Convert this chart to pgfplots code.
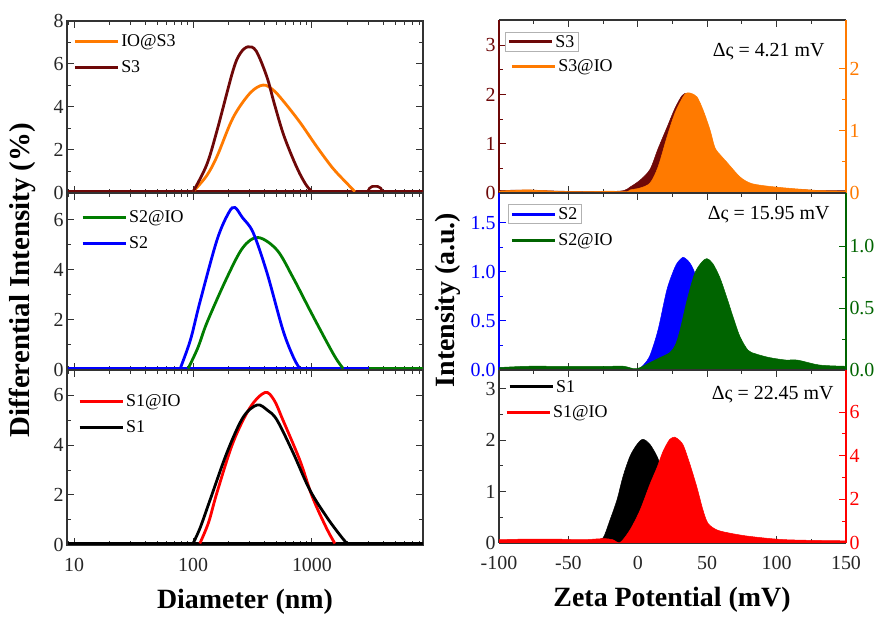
\documentclass[border=0pt]{standalone}
\usepackage{pgfplots}
\pgfplotsset{compat=1.18}
\usepackage{fontspec}
\setmainfont{Liberation Serif}

\definecolor{dred}{RGB}{110,8,8}
\definecolor{orng}{RGB}{255,122,0}
\definecolor{grnl}{RGB}{0,125,0}
\definecolor{grnf}{RGB}{0,100,0}
\definecolor{blu}{RGB}{0,0,255}
\definecolor{rd}{RGB}{255,0,0}

\pgfplotsset{
  mybase/.style={scale only axis, anchor=south west,
    axis line style={line width=1.3bp, black!80},
    every tick/.style={line width=1bp, black!80},
    major tick length=7bp, minor tick length=4bp,
    tick label style={font=\fontsize{20}{20}\selectfont, black!85},
    xticklabel style={yshift=-10bp},
    /pgf/number format/assume math mode=true,
    legend cell align=left,
    legend style={draw=none, fill=none, font=\fontsize{18}{18}\selectfont,
      inner sep=0bp, row sep=11bp, nodes={inner xsep=2bp, inner ysep=1bp}},
    legend image code/.code={\draw[##1, line width=3bp] (0bp,0bp) -- (43bp,0bp);},
  },
  mydls/.style={mybase, width=356bp, xmin=8.7, xmax=8600, clip=false,
    xtick={10,100,1000}, xticklabels={},
    minor xtick={9,20,30,40,50,60,70,80,90,200,300,400,500,600,700,800,900,2000,3000,4000,5000,6000,7000,8000},
    minor y tick num=1, ymin=0},
  dcurve/.style={smooth, tension=0.55, line width=2.8bp},
  myzl/.style={mybase, width=347bp, xmin=-100, xmax=150, xtick={-100,-50,...,150},
    minor x tick num=1, axis x line*=box, axis y line*=left, xticklabels={},
    minor y tick num=1, ymin=0},
  myzr/.style={mybase, width=347bp, xmin=-100, xmax=150, axis x line=none,
    axis y line*=right, minor y tick num=1, ymin=0},
  zfill/.style={smooth, tension=0.5, line width=0.5bp},
}

\begin{document}
\begin{tikzpicture}
\useasboundingbox (0bp,0bp) rectangle (881bp,617bp);

% ---------- left: size distributions ----------
\begin{axis}[xmode=log, mydls, at={(67bp,424bp)}, height=172bp, ymax=8, ytick={0,2,4,6,8},
  legend style={at={(0.017,0.928)}, anchor=north west}]
\addplot[orng, line width=2.6bp, forget plot] coordinates {(8.8,0.06)(8550,0.06)};
\addplot[dred, line width=2.6bp, forget plot] coordinates {(8.8,0.06)(8550,0.06)};
\addplot[orng, dcurve] coordinates {(100,0.06)(130,0.8)(159,1.7)(217,3.5)(302,4.65)(388,5.02)(470,4.8)(570,4.3)(790,3.3)(1100,2.15)(1500,1.15)(1970,0.45)(2300,0.06)};
\addplot[dred, dcurve] coordinates {(100,0.06)(130,1.3)(159,2.9)(217,5.7)(250,6.5)(290,6.8)(340,6.6)(418,5.4)(480,4.2)(570,2.8)(680,1.7)(790,0.9)(900,0.35)(1000,0.06)};
\addplot[dred, line width=2.6bp, smooth, tension=0.4, forget plot] coordinates {(2950,0.06)(3050,0.22)(3200,0.3)(3600,0.3)(3800,0.22)(3900,0.06)};
\addlegendentry{IO@S3}
\addlegendentry{S3}
\end{axis}

\begin{axis}[xmode=log, mydls, at={(67bp,247bp)}, height=177bp, ymax=7.08, ytick={0,2,4,6},
  legend style={at={(0.039,0.907)}, anchor=north west}]
\addplot[blu, line width=2.6bp, forget plot] coordinates {(8.8,0.06)(8550,0.06)};
\addplot[grnl, line width=2.6bp, forget plot] coordinates {(3000,0.06)(8550,0.06)};
\addplot[grnl, dcurve] coordinates {(91,0.06)(110,0.9)(131,1.9)(193,3.7)(263,4.9)(352,5.3)(508,4.8)(693,3.7)(960,2.4)(1340,1.1)(1600,0.45)(1830,0.06)};
\addplot[blu, dcurve] coordinates {(78,0.06)(95,1.2)(114,2.7)(159,5.2)(200,6.3)(225,6.5)(260,6.1)(320,5.5)(418,3.9)(570,1.6)(700,0.5)(790,0.06)};
\addlegendentry{S2@IO}
\addlegendentry{S2}
\end{axis}

\begin{axis}[xmode=log, mydls, at={(67bp,72bp)}, height=175bp, ymax=7, ytick={0,2,4,6},
  xticklabels={10,100,1000},
  legend style={at={(0.031,0.868)}, anchor=north west}]
\addplot[rd, line width=2.6bp, forget plot] coordinates {(8.8,0.06)(8550,0.06)};
\addplot[black, line width=2.6bp, forget plot] coordinates {(8.8,0.06)(8550,0.06)};
\addplot[rd, dcurve] coordinates {(114,0.06)(135,0.9)(159,2.1)(217,4.1)(302,5.5)(403,6.1)(480,5.8)(570,5.0)(790,3.4)(960,2.2)(1100,1.5)(1350,0.6)(1560,0.06)};
\addplot[black, dcurve] coordinates {(100,0.06)(115,0.7)(139,1.8)(193,3.7)(263,5.1)(345,5.6)(420,5.4)(508,5.0)(693,3.7)(960,2.2)(1340,1.1)(1720,0.4)(1970,0.06)};
\addlegendentry{S1@IO}
\addlegendentry{S1}
\end{axis}

% ---------- right: zeta potential ----------
% top
\begin{axis}[myzl, at={(499bp,424bp)}, height=173bp, ymax=3.51, ytick={0,1,2,3},
  y axis line style={dred}, ytick style={dred}, yticklabel style={text=dred},
  legend style={draw=gray!60, fill=white, line width=0.8bp, inner sep=2bp,
    at={(0.017,0.873)}, anchor=west}]
\addplot[fill=dred, draw=dred, zfill, forget plot] coordinates {(-100,0.05)(-80,0.06)(-60,0.04)(-40,0.03)(-20,0.03)(-10,0.05)(-5.6,0.12)(1.6,0.26)(8.8,0.48)(14.6,0.9)(21,1.33)(26.8,1.72)(32,1.98)(36,2.02)(42,1.9)(47,1.6)(52,1.2)(56,0.85)(64,0.55)(74,0.3)(81,0.18)(100,0.1)(130,0.05)(150,0.05)} \closedcycle;
\addlegendimage{dred}
\addlegendentry{S3}
\end{axis}
\begin{axis}[myzr, at={(499bp,424bp)}, height=173bp, ymax=2.79, ytick={0,1,2},
  y axis line style={orng}, ytick style={orng}, yticklabel style={text=orng},
  legend style={at={(0.032,0.734)}, anchor=west}]
\addplot[fill=orng, draw=orng, zfill, forget plot] coordinates {(-100,0.03)(-80,0.05)(-60,0.03)(-40,0.02)(-20,0.03)(-8,0.02)(-5.6,0.05)(1.6,0.08)(8.8,0.16)(14.6,0.42)(21,0.9)(26.8,1.29)(32.6,1.55)(35,1.61)(38,1.61)(42.6,1.55)(47,1.34)(52,1.02)(55.6,0.73)(60,0.6)(64,0.5)(73.6,0.26)(81,0.16)(90,0.12)(107,0.08)(131,0.04)(150,0.03)} \closedcycle;
\addlegendimage{orng}
\addlegendentry{S3@IO}
\end{axis}

% middle
\begin{axis}[myzl, at={(499bp,247bp)}, height=177bp, ymax=1.806, ytick={0,0.5,1,1.5},
  yticklabels={0.0,0.5,1.0,1.5},
  y axis line style={blu}, ytick style={blu}, yticklabel style={text=blu},
  legend style={draw=gray!60, fill=white, line width=0.8bp, inner sep=2bp,
    at={(0.026,0.881)}, anchor=west}]
\addplot[fill=blu, draw=blu, zfill, forget plot] coordinates {(-100,0.02)(-80,0.03)(-60,0.02)(-40,0.02)(-20,0.03)(-10,0.03)(-1,0)(4,0.05)(8.8,0.15)(14.6,0.41)(21,0.82)(26.8,1.05)(30,1.12)(32.6,1.15)(35,1.13)(37.6,1.09)(41,0.99)(45,0.75)(50,0.45)(55,0.25)(60,0.12)(70,0.05)(80,0.03)(150,0.02)} \closedcycle;
\addlegendimage{blu}
\addlegendentry{S2}
\end{axis}
\begin{axis}[myzr, at={(499bp,247bp)}, height=177bp, ymax=1.43, ytick={0,0.5,1},
  yticklabels={0.0,0.5,1.0},
  y axis line style={grnf}, ytick style={grnf}, yticklabel style={text=grnf},
  legend style={at={(0.032,0.731)}, anchor=west}]
\addplot[fill=grnf, draw=grnf, zfill, forget plot] coordinates {(-100,0.02)(-80,0.03)(-60,0.03)(-40,0.03)(-20,0.03)(-10,0.03)(-1,0.01)(8.8,0.06)(16,0.1)(23,0.14)(27,0.2)(30.4,0.32)(35.4,0.56)(41,0.78)(46,0.87)(49.8,0.9)(54,0.86)(59,0.75)(64,0.59)(68.6,0.43)(73.6,0.27)(79.4,0.16)(85,0.13)(95,0.1)(107,0.08)(115,0.08)(131,0.04)(150,0.03)} \closedcycle;
\addlegendimage{grnf}
\addlegendentry{S2@IO}
\end{axis}

% bottom
\begin{axis}[myzl, at={(499bp,74bp)}, height=173bp, ymax=3.37, ytick={0,1,2,3},
  xticklabels={-100,-50,0,50,100,150},
  legend style={at={(0.026,0.902)}, anchor=west}]
\addplot[fill=black, draw=black, zfill, forget plot] coordinates {(-100,0.05)(-80,0.06)(-60,0.06)(-40,0.05)(-30,0.06)(-25,0.1)(-20,0.45)(-15,0.84)(-10.6,1.3)(-5.6,1.69)(-0.6,1.92)(3.7,2.02)(8.8,1.92)(13.8,1.69)(16,1.53)(20,1.2)(25,0.8)(30,0.4)(35,0.2)(45,0.08)(60,0.05)(150,0.03)} \closedcycle;
\addlegendimage{black}
\addlegendentry{S1}
\end{axis}
\begin{axis}[myzr, at={(499bp,74bp)}, height=173bp, ymax=7.93, ytick={0,2,4,6},
  y axis line style={rd}, ytick style={rd}, yticklabel style={text=rd},
  legend style={at={(0.017,0.757)}, anchor=west}]
\addplot[fill=rd, draw=rd, zfill, forget plot] coordinates {(-100,0.15)(-80,0.18)(-60,0.18)(-40,0.15)(-25,0.2)(-18,0.15)(-12.8,0.02)(-5.6,0.6)(1.6,1.5)(8.8,2.7)(13.8,3.45)(18.2,4.2)(23,4.75)(26.5,4.85)(28.2,4.8)(32.6,4.5)(37.6,3.6)(42.6,2.55)(47,1.5)(50.6,0.9)(57,0.6)(66.4,0.45)(81,0.3)(107,0.15)(150,0.1)} \closedcycle;
\addlegendimage{rd}
\addlegendentry{S1@IO}
\end{axis}

% annotations and labels
\node[anchor=east, font=\fontsize{20}{20}\selectfont] at (828bp,565bp) {Δς = 4.21 mV};
\node[anchor=east, font=\fontsize{20}{20}\selectfont] at (833bp,402bp) {Δς = 15.95 mV};
\node[anchor=east, font=\fontsize{20}{20}\selectfont] at (837bp,222bp) {Δς = 22.45 mV};

\node[rotate=90, font=\fontsize{29}{29}\selectfont\bfseries] at (22bp,337bp) {Differential Intensity (\%)};
\node[rotate=90, font=\fontsize{28}{28}\selectfont\bfseries] at (448bp,317bp) {Intensity (a.u.)};
\node[font=\fontsize{28}{28}\selectfont\bfseries] at (245bp,15bp) {Diameter (nm)};
\node[font=\fontsize{28}{28}\selectfont\bfseries] at (672bp,17bp) {Zeta Potential (mV)};
\end{tikzpicture}
\end{document}
